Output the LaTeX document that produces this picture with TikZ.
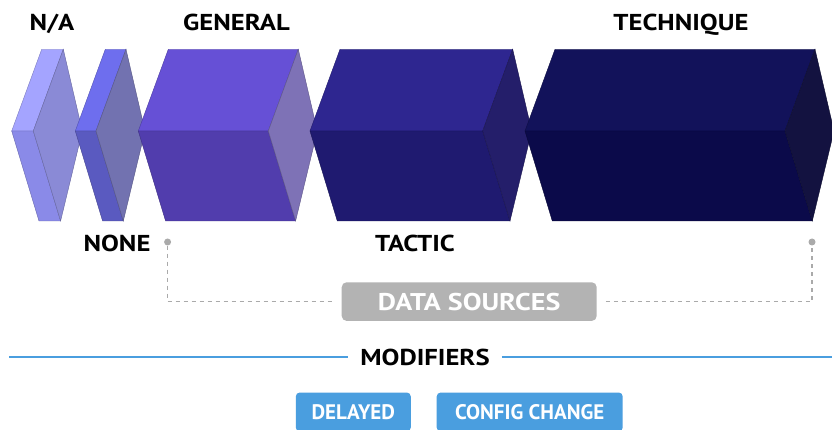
\documentclass[tikz,border=0pt]{standalone}
\usepackage{fontspec}
\setmainfont{PT Sans}
\newfontfamily\widefont{PT Sans}[FakeStretch=1.16]
\definecolor{naT}{HTML}{A4A4FF}
\definecolor{naL}{HTML}{8A8AE8}
\definecolor{naR}{HTML}{8A8AD6}
\definecolor{noT}{HTML}{6E6EEE}
\definecolor{noL}{HTML}{5A5AC0}
\definecolor{noR}{HTML}{7272B0}
\definecolor{geT}{HTML}{6650D6}
\definecolor{geL}{HTML}{513DAD}
\definecolor{geR}{HTML}{7E72B6}
\definecolor{taT}{HTML}{2E2690}
\definecolor{taL}{HTML}{1F1A70}
\definecolor{taR}{HTML}{241E6A}
\definecolor{teT}{HTML}{12125A}
\definecolor{teL}{HTML}{0B0A4A}
\definecolor{teR}{HTML}{131240}
\definecolor{dgray}{HTML}{AAAAAA}
\definecolor{boxgray}{HTML}{B3B3B3}
\definecolor{mblue}{HTML}{4A9EDF}
\newcommand\myprism[5]{%
  \filldraw[fill=#3,draw=#3!75!black,line width=0.4pt] ({#1+30},49.3) -- ({#1+#2+30},49.3) -- ({#1+#2},131) -- (#1,131) -- cycle;
  \filldraw[fill=#4,draw=#4!75!black,line width=0.4pt] (#1,131) -- ({#1+#2},131) -- ({#1+#2+27.3},221) -- ({#1+27.3},221) -- cycle;
  \filldraw[fill=#5,draw=#5!75!black,line width=0.4pt] ({#1+#2+30},49.3) -- ({#1+#2+49},131) -- ({#1+#2+27.3},221) -- ({#1+#2},131) -- cycle;
}
\begin{document}
\begin{tikzpicture}[x=1pt,y=-1pt,
  lab/.style={font=\widefont\fontsize{23}{23}\selectfont\bfseries, text=black, inner sep=0pt, anchor=base},
  gbox/.style={fill=boxgray, rounded corners=5pt, text=white, font=\widefont\fontsize{24.2}{24.2}\selectfont\bfseries, text height=17pt, text depth=0pt, inner sep=0pt},
  btn/.style={fill=mblue, rounded corners=4pt, text=white, font=\fontsize{21}{21}\selectfont\bfseries, text height=14.7pt, text depth=0pt, inner sep=0pt},
  dotnode/.style={circle, fill=dgray, minimum size=7pt, inner sep=0pt},
  dashline/.style={draw=dgray, line width=1.5pt, dash pattern=on 4pt off 4pt},
  blueline/.style={draw=mblue, line width=1.5pt}]
\useasboundingbox (0,0) rectangle (832,430);
\fill[white] (0,0) rectangle (832,430);
% prisms
\myprism{11.7}{21.6}{naT}{naL}{naR}
\myprism{75.3}{20.7}{noT}{noL}{noR}
\myprism{138.3}{130}{geT}{geL}{geR}
\myprism{310}{172.7}{taT}{taL}{taR}
\myprism{525}{260}{teT}{teL}{teR}
% labels
\node[lab] (na) at (52,31) {N/A};
\node[lab] (gen) at (236.5,31) {GENERAL};
\node[lab] (tech) at (681,31) {TECHNIQUE};
\node[lab] (none) at (117,252) {NONE};
\node[lab] (tac) at (415,252) {TACTIC};
% data sources
\node[gbox, minimum width=255pt, minimum height=38.7pt] (ds) at (469.2,301.6) {DATA SOURCES};
\node[dotnode] (ldot) at (167.6,242) {};
\node[dotnode] (rdot) at (812,242) {};
\draw[dashline] (ldot) -- (ldot |- ds.west) -- ([xshift=-9pt]ds.west);
\draw[dashline] ([xshift=9pt]ds.east) -- (rdot |- ds.east) -- (rdot);
% modifiers
\node[font=\widefont\fontsize{23}{23}\selectfont\bfseries, text height=16.1pt, text depth=0pt, inner xsep=12pt, inner ysep=0pt] (mod) at (425,357) {MODIFIERS};
\coordinate (ml) at (9,357);
\coordinate (mr) at (832,357);
\draw[blueline] (ml) -- (mod.west);
\draw[blueline] (mod.east) -- (mr);
% buttons
\node[btn, minimum width=115pt, minimum height=39pt] (del) at (353.3,412) {DELAYED};
\node[btn, minimum width=186pt, minimum height=39pt] (cfg) at (529.7,412) {CONFIG CHANGE};
\end{tikzpicture}
\end{document}
